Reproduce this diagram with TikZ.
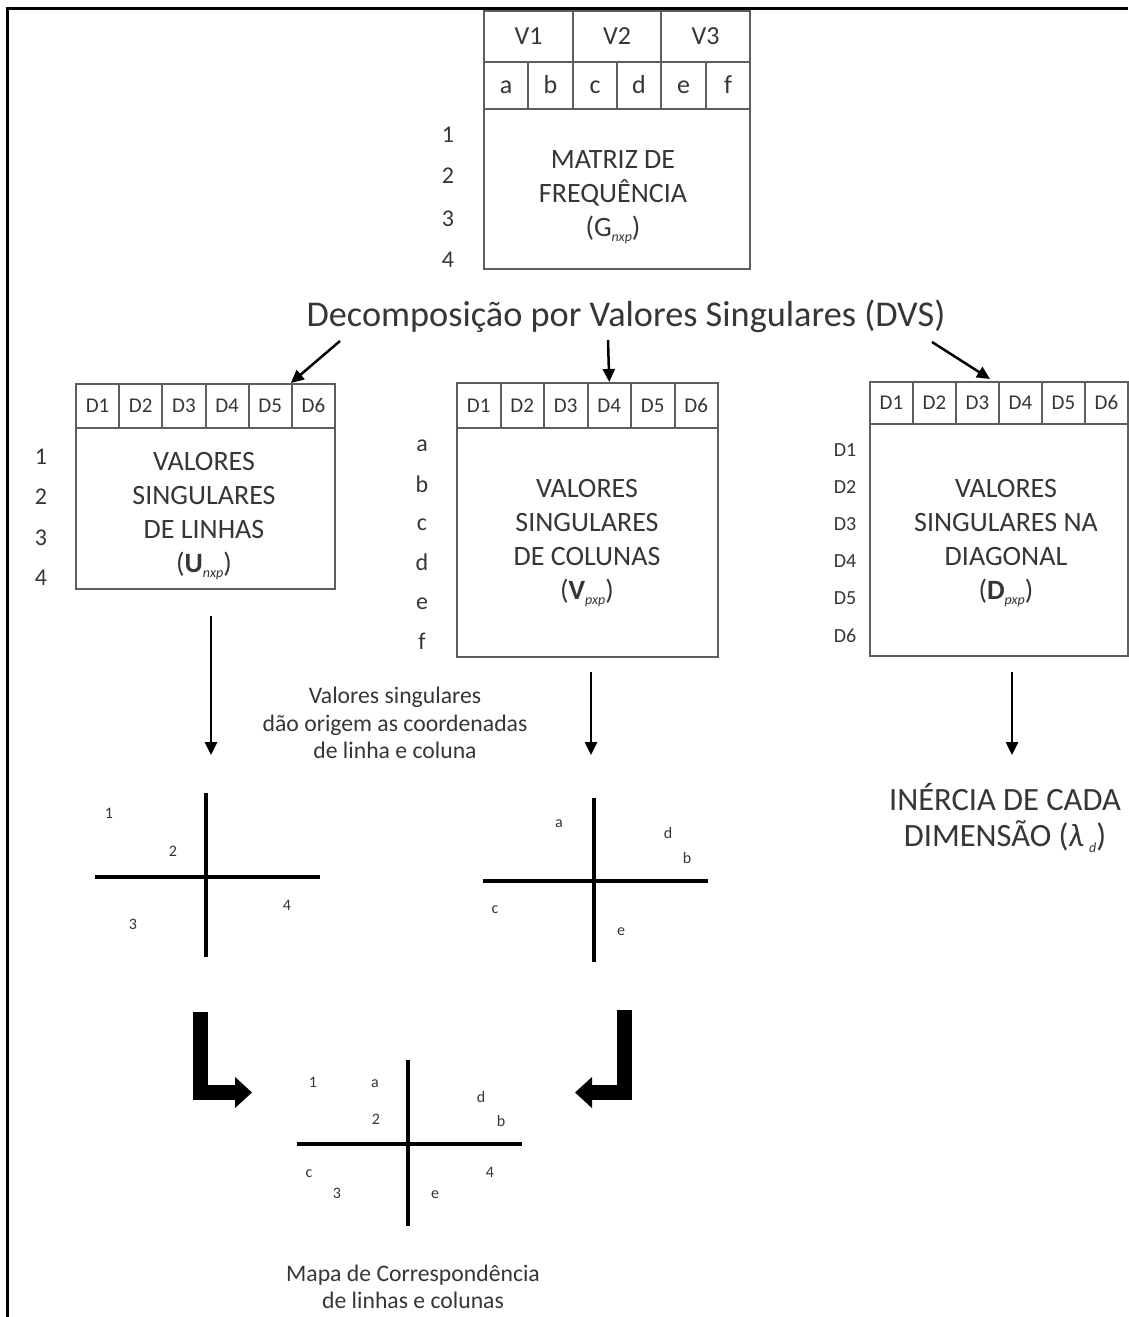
\documentclass[tikz,border=0pt]{standalone}
\usepackage{fontspec}
\setmainfont{Carlito}
\usetikzlibrary{arrows.meta,calc}
\definecolor{boxline}{HTML}{5E5E5E}
\definecolor{txt}{HTML}{363636}
\newcommand{\subx}[1]{\raisebox{-0.35ex}{\fontsize{14}{14}\selectfont\itshape #1}}
\begin{document}
\begin{tikzpicture}[x=1pt,y=-1pt,
  box/.style={draw=boxline, line width=2pt, inner sep=0pt, anchor=north west},
  hdrG/.style={box, text height=18.5pt, text depth=2pt, text=txt, font=\fontsize{26}{30}\selectfont},
  hdrD/.style={box, text height=15.3pt, text depth=2pt, text=txt, font=\fontsize{21}{25}\selectfont},
  bodytxt/.style={text=txt, align=center, inner sep=0pt, font=\fontsize{28}{34}\selectfont},
  rowlbl/.style={text height=17pt, text depth=2pt, text=txt, inner sep=0pt, font=\fontsize{24}{28}\selectfont},
  rowlblD/.style={text height=14.6pt, text depth=2pt, text=txt, inner sep=0pt, font=\fontsize{20}{24}\selectfont},
  titletxt/.style={text=txt, inner sep=0pt, font=\fontsize{36.3}{43}\selectfont},
  captxt/.style={text=txt, align=center, inner sep=0pt, font=\fontsize{23.7}{27.5}\selectfont},
  bigtxt/.style={text=txt, align=center, inner sep=0pt, font=\fontsize{32.5}{36}\selectfont},
  pl/.style={text height=12pt, text depth=2pt, text=txt, inner sep=0pt, font=\fontsize{16}{18}\selectfont},
  arr/.style={line width=2.5pt, -{Triangle[length=13pt,width=12pt]}},
  axisln/.style={line width=4pt},
  bent/.style={line width=15pt, line join=miter, -{Triangle[length=17pt,width=30pt]}},
  frameln/.style={line width=3pt}]
\path[use as bounding box, fill=white] (0,0) rectangle (1128,1317);
\draw[frameln] (7,1317) -- (7,8) -- (1128,8);

% ---- frequency matrix G
\node[box, minimum width=266pt, minimum height=258pt] (G) at (483,10) {};
\node[hdrG, minimum width=89pt, minimum height=51pt] (GV1) at (483,10) {V1};
\node[hdrG, minimum width=88pt, minimum height=51pt] (GV2) at (572,10) {V2};
\node[hdrG, minimum width=89pt, minimum height=51pt] (GV3) at (660,10) {V3};
\foreach \l/\x/\w in {a/483/44,b/527/45,c/572/44,d/616/44,e/660/45,f/705/44}
  \node[hdrG, minimum width=\w pt, minimum height=47pt] (G\l) at (\x,61) {\l};
\node[bodytxt] (Gtxt) at (613,197) {MATRIZ DE\\FREQUÊNCIA\\(G\subx{nxp})};
\foreach \t/\y in {1/135,2/176,3/219,4/260}
  \node[rowlbl] (Gr\t) at (448,\y) {\t};

% ---- title
\node[titletxt] (T) at (626,316) {Decomposição por Valores Singulares (DVS)};

% ---- U box
\node[box, minimum width=259pt, minimum height=205pt] (U) at (75,383) {};
\foreach \i in {1,...,6}
  \node[hdrD, minimum width=43.17pt, minimum height=44pt] (U\i) at ({75+(\i-1)*43.17},383) {D\i};
\node[bodytxt] (Utxt) at (204,516) {VALORES\\SINGULARES\\DE LINHAS\\(\textbf{U}\subx{nxp})};
\foreach \t/\y in {1/457,2/497,3/538,4/578}
  \node[rowlbl] (Ur\t) at (41,\y) {\t};

% ---- V box
\node[box, minimum width=261pt, minimum height=274pt] (V) at (456,382) {};
\foreach \i in {1,...,6}
  \node[hdrD, minimum width=43.5pt, minimum height=45pt] (V\i) at ({456+(\i-1)*43.5},382) {D\i};
\node[bodytxt] (Vtxt) at (587,543) {VALORES\\SINGULARES\\DE COLUNAS\\(\textbf{V}\subx{pxp})};
\foreach \t/\y in {a/444,b/485,c/523,d/563,e/602,f/642}
  \node[rowlbl] (Vr\t) at (422,\y) {\t};

% ---- D box
\node[box, minimum width=258pt, minimum height=274pt] (D) at (869,381) {};
\foreach \i in {1,...,6}
  \node[hdrD, minimum width=43pt, minimum height=42pt] (D\i) at ({869+(\i-1)*43},381) {D\i};
\node[bodytxt] (Dtxt) at (1006,543) {VALORES\\SINGULARES NA\\DIAGONAL\\(\textbf{D}\subx{pxp})};
\foreach \t/\y in {1/450,2/487,3/524,4/561,5/598,6/636}
  \node[rowlblD] (Dr\t) at (845,\y) {D\t};

% ---- arrows from title
\coordinate (s1) at (340,341);
\coordinate (s2) at (608,340);
\coordinate (s3) at (932,342);
\draw[arr] (s1) -- (U6.north west);
\draw[arr] (s2) -- (V4.north);
\draw[arr] (s3) -- ($(D3.north east)+(-10,-2)$);

% ---- down arrows
\coordinate (d1a) at (211,616); \coordinate (d1b) at (211,755);
\coordinate (d2a) at (591,672); \coordinate (d2b) at (591,755);
\coordinate (d3a) at (1012,672); \coordinate (d3b) at (1012,755);
\draw[arr] (d1a) -- (d1b);
\draw[arr] (d2a) -- (d2b);
\draw[arr] (d3a) -- (d3b);

\node[captxt] (note) at (395,723) {Valores singulares\\dão origem as coordenadas\\de linha e coluna};
\node[bigtxt] (inert) at (1005,818) {INÉRCIA DE CADA\\DIMENSÃO (\textit{λ}\,\subx{d})};

% ---- plot 1
\draw[axisln] (95,877) -- (320,877);
\draw[axisln] (206,793) -- (206,957);
\node[pl] (p11) at (109,813) {1};
\node[pl] (p12) at (173,851) {2};
\node[pl] (p13) at (133,924) {3};
\node[pl] (p14) at (287,905) {4};

% ---- plot 2
\draw[axisln] (483,881) -- (708,881);
\draw[axisln] (594,798) -- (594,962);
\node[pl] (p2a) at (559,822) {a};
\node[pl] (p2d) at (668,833) {d};
\node[pl] (p2b) at (687,858) {b};
\node[pl] (p2c) at (495,908) {c};
\node[pl] (p2e) at (621,930) {e};

% ---- bent arrows
\draw[bent] (200,1012) -- (200,1092.5) -- (252,1092.5);
\draw[bent] (624.5,1010) -- (624.5,1092.5) -- (575,1092.5);

% ---- plot 3
\draw[axisln] (297,1144) -- (522,1144);
\draw[axisln] (408,1060) -- (408,1226);
\node[pl] (p31) at (313,1082) {1};
\node[pl] (p3a) at (375,1082) {a};
\node[pl] (p32) at (376,1119) {2};
\node[pl] (p3d) at (481,1097) {d};
\node[pl] (p3b) at (501,1121) {b};
\node[pl] (p3c) at (309,1172) {c};
\node[pl] (p33) at (337,1193) {3};
\node[pl] (p3e) at (435,1193) {e};
\node[pl] (p34) at (490,1172) {4};

\node[captxt] (map) at (413,1287) {Mapa de Correspondência\\de linhas e colunas};
\end{tikzpicture}
\end{document}
